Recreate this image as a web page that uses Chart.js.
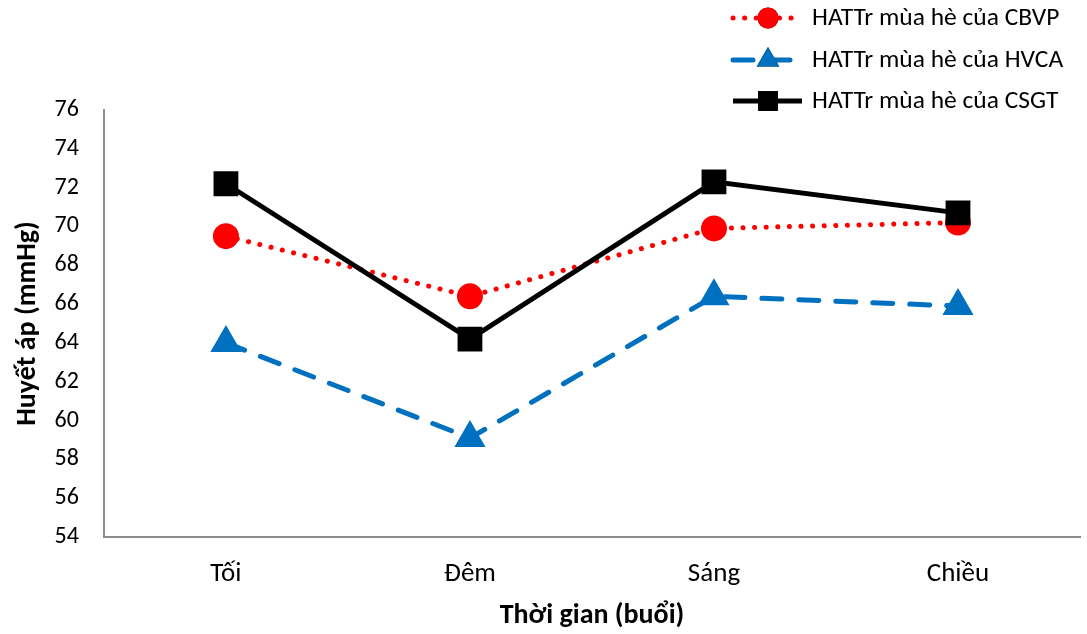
<!DOCTYPE html>
<html lang="vi">
<head>
  <meta charset="UTF-8">
  <title>Huyết áp theo buổi</title>
  <script src="https://cdn.jsdelivr.net/npm/chart.js"></script>
  <style>
    html, body { margin: 0; padding: 0; background: #fff; }
    #wrap { width: 1087px; height: 634px; }
  </style>
</head>
<body>
  <div id="wrap"><canvas id="bpChart" width="1087" height="634"></canvas></div>
  <script>
    // data
    const periods = ['Tối', 'Đêm', 'Sáng', 'Chiều'];
    const cbvp = [69.5, 66.4, 69.9, 70.2];
    const hvca = [64.0, 59.1, 66.4, 65.9];
    const csgt = [72.2, 64.2, 72.3, 70.7];
    const seriesNames = ['HATTr mùa hè của CBVP', 'HATTr mùa hè của HVCA', 'HATTr mùa hè của CSGT'];

    const FONT = "Carlito, Lato, 'Open Sans', sans-serif";

    // legend drawn by hand so each entry shows line + marker like the original
    const lineLegend = {
      id: 'lineLegend',
      afterDraw(chart) {
        const ctx = chart.ctx;
        const rows = [18, 60, 101];
        const x0 = 733, x1 = 802, mx = 768;
        chart.data.datasets.forEach((ds, i) => {
          const y = rows[i];
          ctx.save();
          ctx.strokeStyle = ds.borderColor;
          ctx.lineWidth = ds.borderWidth;
          ctx.lineCap = ds.borderCapStyle || 'butt';
          ctx.setLineDash(ds.borderDash || []);
          ctx.beginPath();
          ctx.moveTo(x0, y);
          ctx.lineTo(x1, y);
          ctx.stroke();
          ctx.setLineDash([]);
          Chart.helpers.drawPoint(ctx, {
            pointStyle: ds.pointStyle,
            radius: ds.pointRadius,
            borderWidth: 0
          }, mx, y);
          ctx.fillStyle = ds.pointBackgroundColor;
          ctx.fill();
          ctx.fillStyle = '#000';
          ctx.font = '25.5px ' + FONT;
          ctx.textBaseline = 'middle';
          ctx.fillText(ds.label, 812, y + 1);
          ctx.restore();
        });
      }
    };

    new Chart(document.getElementById('bpChart'), {
      type: 'line',
      data: {
        labels: periods,
        datasets: [
          {
            label: seriesNames[0],
            data: cbvp,
            borderColor: '#ff0000',
            backgroundColor: '#ff0000',
            pointBackgroundColor: '#ff0000',
            pointBorderColor: '#ff0000',
            borderWidth: 5,
            borderDash: [0.1, 11.5],
            borderCapStyle: 'round',
            pointStyle: 'circle',
            pointRadius: 10.5,
            order: 2
          },
          {
            label: seriesNames[1],
            data: hvca,
            borderColor: '#0070c0',
            backgroundColor: '#0070c0',
            pointBackgroundColor: '#0070c0',
            pointBorderColor: '#0070c0',
            borderWidth: 5,
            borderDash: [20, 17],
            borderCapStyle: 'round',
            pointStyle: 'triangle',
            pointRadius: 13,
            order: 1
          },
          {
            label: seriesNames[2],
            data: csgt,
            borderColor: '#000000',
            backgroundColor: '#000000',
            pointBackgroundColor: '#000000',
            pointBorderColor: '#000000',
            borderWidth: 5,
            pointStyle: 'rect',
            pointRadius: 14,
            order: 0
          }
        ]
      },
      options: {
        responsive: false,
        animation: false,
        layout: { autoPadding: false, padding: { top: 110, right: 7, left: 6, bottom: 0 } },
        elements: { line: { tension: 0 }, point: { borderWidth: 0, hoverRadius: 10 } },
        plugins: {
          legend: { display: false },
          tooltip: { enabled: false }
        },
        scales: {
          x: {
            offset: true,
            grid: { display: false, drawTicks: false },
            border: { color: '#8c8c8c', width: 2 },
            ticks: { color: '#000', font: { family: FONT, size: 27 }, padding: 21 },
            title: {
              display: true,
              text: 'Thời gian (buổi)',
              color: '#000',
              font: { family: FONT, size: 28, weight: 'bold' },
              padding: { top: -12, bottom: 1 }
            }
          },
          y: {
            min: 54,
            max: 76,
            grid: { display: false, drawTicks: false },
            border: { color: '#8c8c8c', width: 2 },
            ticks: { stepSize: 2, color: '#000', font: { family: FONT, size: 24 }, padding: 25 },
            title: {
              display: true,
              text: 'Huyết áp (mmHg)',
              color: '#000',
              font: { family: FONT, size: 28, weight: 'bold' },
              padding: { top: 5, bottom: -15 }
            }
          }
        }
      },
      plugins: [lineLegend]
    });
  </script>
</body>
</html>
